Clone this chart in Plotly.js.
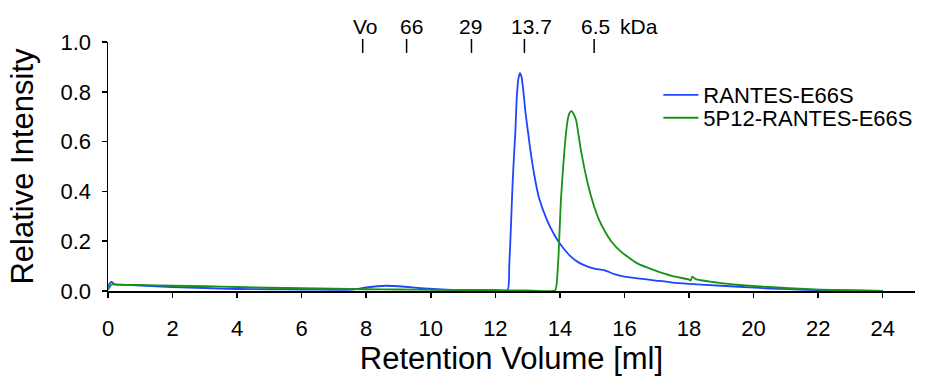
<!DOCTYPE html>
<html>
<head>
<meta charset="utf-8">
<script src="https://cdn.plot.ly/plotly-3.0.1.min.js"></script>
<style>html,body{margin:0;padding:0;background:#fff;}#chart{width:926px;height:376px;}</style>
</head>
<body>
<div id="chart"></div>
<script>
// Blue trace: RANTES-E66S
const rantesX = [0, 0.05, 0.11, 0.2, 0.5, 1, 2, 3, 4, 5, 6, 7, 7.6, 8, 8.6, 9.2, 9.8, 10.3, 11, 12, 12.38, 12.43, 12.48, 12.53, 12.58, 12.62, 12.66, 12.71, 12.76, 12.81, 12.87, 12.93, 13.0, 13.07, 13.2, 13.36, 13.6, 13.83, 14.03, 14.34, 14.6, 14.86, 15.1, 15.37, 15.68, 16.0, 16.4, 16.97, 17.49, 18, 19, 19.55, 20.5, 21.6, 22.5, 24];
const rantesY = [0.015, 0.03, 0.037, 0.028, 0.025, 0.022, 0.016, 0.012, 0.008, 0.007, 0.006, 0.005, 0.006, 0.014, 0.021, 0.017, 0.01, 0.006, 0.004, 0.003, 0.003, 0.1, 0.25, 0.42, 0.55, 0.64, 0.77, 0.85, 0.875, 0.86, 0.8, 0.72, 0.65, 0.58, 0.47, 0.37, 0.285, 0.225, 0.185, 0.138, 0.113, 0.098, 0.089, 0.084, 0.068, 0.058, 0.051, 0.042, 0.034, 0.029, 0.021, 0.017, 0.01, 0.005, 0.002, 0];

// Green trace: 5P12-RANTES-E66S
const p12X = [0, 0.05, 0.11, 0.3, 1, 2, 3, 4, 5, 6, 7, 8, 9, 10, 11, 12, 13, 13.85, 13.9, 13.96, 14.03, 14.14, 14.24, 14.3, 14.36, 14.42, 14.5, 14.65, 14.86, 15.06, 15.2, 15.37, 15.6, 15.89, 16.4, 16.92, 17.49, 18.0, 18.05, 18.1, 18.2, 19, 19.55, 20.6, 21.6, 22.5, 23.3, 24];
const p12Y = [0.005, 0.015, 0.026, 0.025, 0.024, 0.021, 0.019, 0.016, 0.013, 0.011, 0.009, 0.007, 0.006, 0.005, 0.004, 0.003, 0.002, 0.002, 0.03, 0.15, 0.365, 0.566, 0.687, 0.715, 0.722, 0.712, 0.687, 0.566, 0.433, 0.339, 0.29, 0.245, 0.198, 0.158, 0.111, 0.084, 0.06, 0.046, 0.042, 0.058, 0.048, 0.032, 0.024, 0.015, 0.008, 0.004, 0.002, 0];

const seriesNames = ['RANTES-E66S', '5P12-RANTES-E66S'];

// Molecular-weight markers along the top
const markerLabels = ['Vo', '66', '29', '13.7', '6.5'];
const markerPositions = [7.89, 9.25, 11.26, 12.9, 15.06];
const markerUnit = 'kDa';

const xTicks = [0, 2, 4, 6, 8, 10, 12, 14, 16, 18, 20, 22, 24];
const yTicks = [0, 0.2, 0.4, 0.6, 0.8, 1.0];

const FONT = 'Liberation Sans, Arial, Helvetica, sans-serif';
const labelShift = [3, 5, -1, 7, 1];

const traces = [
  {x: rantesX, y: rantesY, name: seriesNames[0], type: 'scatter', mode: 'lines', legend: 'legend',
   line: {color: '#1f45ff', width: 1.8, shape: 'spline', smoothing: 0.5}},
  {x: p12X, y: p12Y, name: seriesNames[1], type: 'scatter', mode: 'lines', legend: 'legend2',
   line: {color: '#169216', width: 1.8, shape: 'spline', smoothing: 0.5}}
];

const shapes = markerPositions.map(p => ({
  type: 'line', xref: 'x', yref: 'paper', x0: p, x1: p, y0: 0.956, y1: 1.012,
  line: {color: '#000', width: 1.5}
}));

const annotations = markerPositions.map((p, i) => ({
  x: p, y: 1.062, xref: 'x', yref: 'paper', text: markerLabels[i], showarrow: false,
  xanchor: 'center', yanchor: 'middle', xshift: labelShift[i],
  font: {family: FONT, size: 21, color: '#000'}
}));
annotations.push({
  x: markerPositions[4], y: 1.062, xref: 'x', yref: 'paper', text: markerUnit, showarrow: false,
  xanchor: 'left', yanchor: 'middle', xshift: 24,
  font: {family: FONT, size: 21, color: '#000'}
});

const legendStyle = (y) => ({
  x: 0.682, y: y, xanchor: 'left', yanchor: 'middle', bgcolor: 'rgba(0,0,0,0)',
  itemwidth: 35, borderwidth: 0,
  font: {family: FONT, size: 22, color: '#000'}
});

const layout = {
  width: 926, height: 376,
  margin: {l: 108, r: 11, t: 42, b: 85, pad: 0, autoexpand: false},
  paper_bgcolor: '#fff', plot_bgcolor: '#fff',
  font: {family: FONT, color: '#000'},
  showlegend: true,
  legend: legendStyle(0.787),
  legend2: legendStyle(0.695),
  xaxis: {
    range: [0, 25], tickvals: xTicks, ticks: 'outside', ticklen: 5, tickwidth: 1.5, tickcolor: '#000',
    showline: true, linecolor: '#000', linewidth: 1.5, showgrid: false, zeroline: false,
    ticklabelstandoff: 12,
    tickfont: {family: FONT, size: 22, color: '#000'},
    title: {text: 'Retention Volume [ml]', font: {family: FONT, size: 31, color: '#000'}, standoff: 9}
  },
  yaxis: {
    range: [0, 1], tickvals: yTicks, tickformat: '.1f', ticks: 'outside', ticklen: 5, tickwidth: 1.5, tickcolor: '#000',
    showline: true, linecolor: '#000', linewidth: 1.5, showgrid: false, zeroline: false,
    ticklabelstandoff: 6,
    tickfont: {family: FONT, size: 22, color: '#000'},
    title: {text: 'Relative Intensity', font: {family: FONT, size: 31, color: '#000'}, standoff: 17}
  },
  shapes: shapes,
  annotations: annotations
};

Plotly.newPlot('chart', traces, layout, {displayModeBar: false, staticPlot: true});
</script>
</body>
</html>
